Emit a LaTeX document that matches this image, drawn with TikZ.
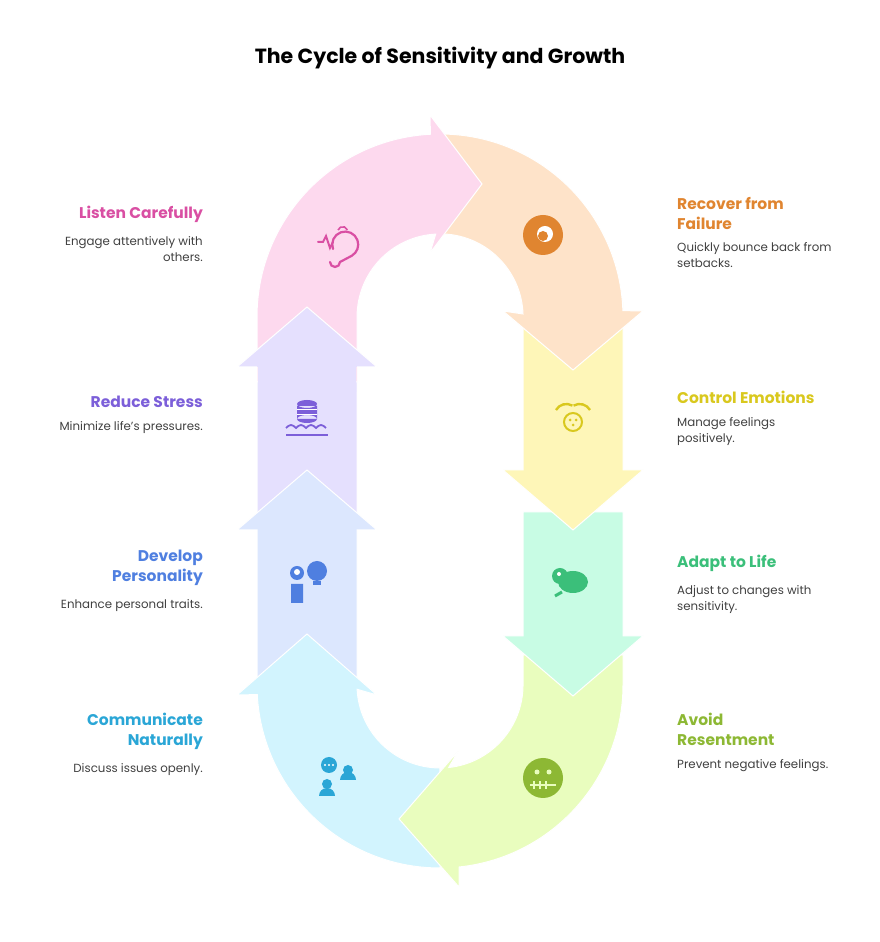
\documentclass[tikz,border=0pt]{standalone}
\usepackage{fontspec}
\setmainfont{Poppins}
\usetikzlibrary{positioning}

\definecolor{pinkbg}{HTML}{FDD9EE}\definecolor{pinkfg}{HTML}{D94FA3}
\definecolor{orabg}{HTML}{FEE3C9}\definecolor{orafg}{HTML}{E08530}
\definecolor{yelbg}{HTML}{FEF6B8}\definecolor{yelfg}{HTML}{D9C81E}
\definecolor{grnbg}{HTML}{C8FCE4}\definecolor{grnfg}{HTML}{3BBF7A}
\definecolor{limbg}{HTML}{E9FDBE}\definecolor{limfg}{HTML}{8DB834}
\definecolor{cyabg}{HTML}{D2F4FE}\definecolor{cyafg}{HTML}{2AA6D6}
\definecolor{blubg}{HTML}{DCE7FE}\definecolor{blufg}{HTML}{4F7FE0}
\definecolor{purbg}{HTML}{E5E0FE}\definecolor{purfg}{HTML}{7C5FD9}

\tikzset{
  seg/.style={fill=#1,draw=white,line width=1pt,line join=miter},
  head/.style={font=\bfseries\fontsize{15.5}{20}\selectfont,text=#1,inner sep=0pt},
  lhead/.style={head=#1,anchor=north east,align=right},
  rhead/.style={head=#1,anchor=north west,align=left},
  body/.style={font=\fontsize{11.8}{16}\selectfont,text=black!75,inner sep=0pt},
}

\begin{document}
\begin{tikzpicture}[x=1pt,y=1pt]
\useasboundingbox (0,0) rectangle (880,942);

\node[font=\bfseries\fontsize{20.5}{22}\selectfont] (title) at (440,884) {The Cycle of Sensitivity and Growth};

% segments, back to front
\draw[seg=purbg] (257,420)--(257,575)--(237,575)--(307,635)--(377,575)--(357,575)--(357,420)--cycle;
\draw[seg=blubg] (257,260)--(257,412)--(237,412)--(307,472)--(377,412)--(357,412)--(357,260)--cycle;
\draw[seg=cyabg] (440,74) arc(-90:-177:183)--(237,247)--(307,308)--(377,247)--(357.1,252.7) arc(-177:-90:83)--cycle;
\draw[seg=limbg] (623,287)--(623,257) arc(0:-84:183)--(459,55)--(399,123)--(459,192)--(448.7,174.5) arc(-84:0:83)--(523,287)--cycle;
\draw[seg=grnbg] (523,430)--(623,430)--(623,306)--(643,306)--(573,246)--(503,306)--(523,306)--cycle;
\draw[seg=yelbg] (523,640)--(623,640)--(623,472)--(643,472)--(573,412)--(503,472)--(523,472)--cycle;
\draw[seg=orabg] (440,808) arc(90:2:183)--(643,631)--(573,572)--(503,631)--(523,628) arc(2:90:83)--cycle;
\draw[seg=pinkbg] (257,560)--(257,625) arc(180:93:183)--(430,827)--(482,758)--(430,689)--(435.7,707.9) arc(93:180:83)--(357,560)--cycle;
% purple head over pink
\fill[purbg] (258,550)--(258,575)--(237,575)--(307,635)--(377,575)--(356,575)--(356,550)--cycle;
\draw[white,line width=1pt] (257,575)--(237,575)--(307,635)--(377,575)--(357,575);

% icons
\draw[pinkfg,line width=2.2pt,line cap=round] (333,693) arc(200:-60:13) -- (340,680) arc(0:-180:5);
\draw[pinkfg,line width=2pt,line cap=round] (318,700)--(323,700)--(326,706)--(330,694)--(333,700);
\draw[pinkfg,line width=1.6pt] (338,712) arc(160:20:5);
\fill[orafg] (543,707) circle (20);
\fill[white] (545,708) circle (8);\fill[orafg] (543,706) circle (5);
\draw[yelfg,line width=2pt] (573,520) circle (9);
\draw[yelfg,line width=2.4pt] (556,532) arc(150:60:12) (590,532) arc(30:120:12);
\fill[yelfg] (570,522) circle (1.5) (576,522) circle (1.5) (573,517) circle (1.5);
\fill[grnfg] (573,360) ellipse (15 and 11);\fill[grnfg] (560,366) circle (8);
\fill[white] (559,368) circle (2);\draw[grnfg,line width=3pt] (562,350)--(555,346);
\fill[limfg] (543,164) circle (20);
\fill[limbg] (537,170) circle (2.5) (549,170) circle (2.5);
\draw[limbg,line width=2pt] (530,157)--(556,157);
\draw[limbg,line width=1.3pt] (534,153)--(534,161) (540,153)--(540,161) (546,153)--(546,161);
\fill[cyafg] (329,177) circle (8) (348,172) circle (5) (327,158) circle (5);
\fill[cyafg] (340,162) arc(180:0:8) -- cycle (319,146) arc(180:0:8) -- cycle;
\fill[white] (325,177) circle (1.2) (329,177) circle (1.2) (333,177) circle (1.2);
\fill[blufg] (297,369) circle (7) (291,339) rectangle (303,358);
\fill[blufg] (317,371) circle (10);\fill[blufg] (313,357) rectangle (321,361);
\fill[white] (297,370) circle (3);
\fill[purfg] (307,538) ellipse (10 and 4) (297,523) rectangle (317,536) (307,523) ellipse (10 and 4);
\draw[white,line width=1pt] (297,532)--(317,532) (297,527)--(317,527);
\draw[purfg,line width=1.8pt] (286,514) sin (291,517) cos (296,514) sin (301,517) cos (306,514) sin (311,517) cos (316,514) sin (321,517) cos (326,514);
\draw[purfg,line width=1.8pt] (286,507)--(328,507);

% left texts
\node[lhead=pinkfg] (listen) at (203,736) {Listen Carefully};
\node[body,align=right,below=13pt of listen.south east,anchor=north east] (listenT) {Engage attentively with\\others.};
\node[lhead=purfg] (reduce) at (203,546) {Reduce Stress};
\node[body,below=13pt of reduce.south east,anchor=north east] (reduceT) {Minimize life's pressures.};
\node[lhead=blufg] (develop) at (203,392) {Develop\\Personality};
\node[body,below=13pt of develop.south east,anchor=north east] (developT) {Enhance personal traits.};
\node[lhead=cyafg] (commun) at (203,229) {Communicate\\Naturally};
\node[body,below=13pt of commun.south east,anchor=north east] (communT) {Discuss issues openly.};

% right texts
\node[rhead=orafg] (recover) at (677,745) {Recover from\\Failure};
\node[body,align=left,below=13pt of recover.south west,anchor=north west] (recoverT) {Quickly bounce back from\\setbacks.};
\node[rhead=yelfg] (control) at (677,551) {Control Emotions};
\node[body,align=left,below=13pt of control.south west,anchor=north west] (controlT) {Manage feelings\\positively.};
\node[rhead=grnfg] (adapt) at (677,387) {Adapt to Life};
\node[body,align=left,below=13pt of adapt.south west,anchor=north west] (adaptT) {Adjust to changes with\\sensitivity.};
\node[rhead=limfg] (avoid) at (677,229) {Avoid\\Resentment};
\node[body,below=13pt of avoid.south west,anchor=north west] (avoidT) {Prevent negative feelings.};
\end{tikzpicture}
\end{document}
